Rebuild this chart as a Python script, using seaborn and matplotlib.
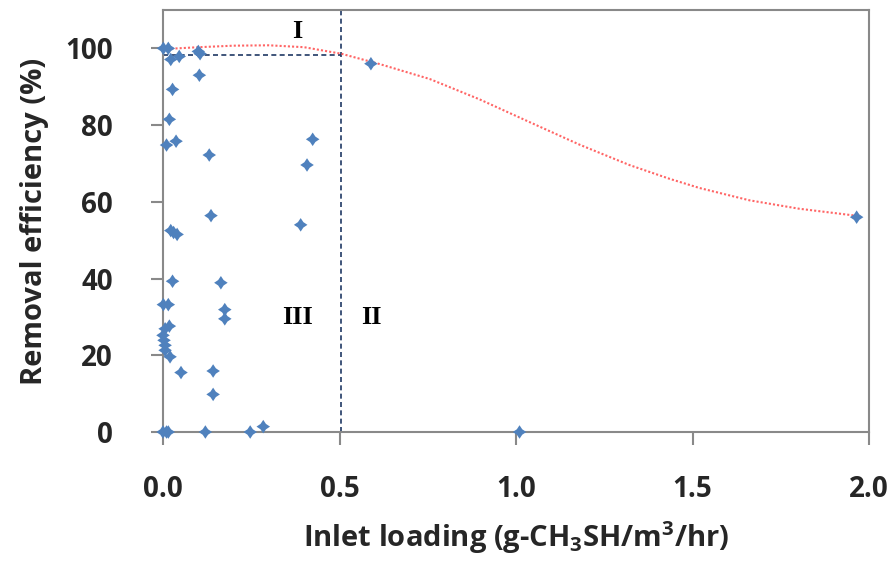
import numpy as np
import pandas as pd
import seaborn as sns
import matplotlib.pyplot as plt

# scatter data
inlet_loading = [0.001, 0.015, 0.100, 0.105, 0.022, 0.046, 0.103, 0.027, 0.018, 0.010,
                 0.037, 0.424, 0.408, 0.131, 0.136, 0.390, 0.022, 0.030, 0.040, 0.027,
                 0.164, 0.001, 0.015, 0.175, 0.175, 0.018, 0.006, 0.000, 0.003, 0.006,
                 0.006, 0.020, 0.051, 0.142, 0.142, 0.000, 0.010, 0.015, 0.120, 0.247,
                 0.284, 0.589, 1.010, 1.965]
removal_eff = [100.0, 100.0, 99.2, 98.6, 97.1, 97.9, 93.0, 89.3, 81.5, 74.8,
               75.8, 76.3, 69.6, 72.2, 56.4, 54.0, 52.5, 52.0, 51.5, 39.3,
               38.9, 33.2, 33.2, 31.9, 29.5, 27.6, 26.9, 25.2, 23.9, 22.6,
               21.3, 19.6, 15.5, 15.9, 9.8, 0.0, 0.0, 0.0, 0.0, 0.0,
               1.4, 96.0, 0.0, 56.0]

# trend curve
trend_x = [0.0, 0.10, 0.20, 0.30, 0.40, 0.505, 0.614, 0.756, 0.897, 1.038,
           1.18, 1.321, 1.435, 1.52, 1.661, 1.802, 1.953, 1.975]
trend_y = [99.8, 100.3, 100.7, 100.8, 100.3, 98.6, 95.9, 92.0, 86.7, 80.8,
           74.9, 69.6, 66.0, 63.6, 60.4, 58.2, 56.5, 56.3]

# region boundaries
boundary_x = 0.505
boundary_y = 98.4
region_labels = ["I", "II", "III"]
region_pos = [(0.38, 104.4), (0.59, 29.9), (0.38, 29.9)]

df = pd.DataFrame({"load": inlet_loading, "eff": removal_eff})
trend = pd.DataFrame({"x": trend_x, "y": trend_y})

sns.set_style("white")
plt.rcParams['font.family'] = ['Open Sans', 'DejaVu Sans']
plt.rcParams['mathtext.default'] = 'regular'

fig = plt.figure(figsize=(8.9, 5.64), dpi=100)
ax = fig.add_axes([163/890, 1-432/564, (869-163)/890, (432-10)/564])

sns.lineplot(data=trend, x="x", y="y", ax=ax, color="#ff4a4a", alpha=0.85,
             linewidth=1.5, linestyle=(0, (1, 1)), sort=False, zorder=2)
ax.plot([0, boundary_x], [boundary_y, boundary_y], color="#1f3864",
        linewidth=1.2, linestyle=(0, (3, 2)), zorder=1)
ax.axvline(boundary_x, color="#1f3864", linewidth=1.2, linestyle=(0, (3, 2)), zorder=1)

# slightly pinched diamond like the office-style marker
diamond = [(0, 1), (0.4, 0.4), (1, 0), (0.4, -0.4), (0, -1), (-0.4, -0.4), (-1, 0), (-0.4, 0.4)]
sns.scatterplot(data=df, x="load", y="eff", ax=ax, marker=diamond, s=95,
                color="#4f81bd", edgecolor="none", clip_on=False, zorder=3)

for lab, (px, py) in zip(region_labels, region_pos):
    ax.text(px, py, lab, ha="center", va="center", fontsize=19, fontweight="bold",
            family="Liberation Serif", color="black")

ax.set_xlim(0, 2.0)
ax.set_ylim(0, 110)
ax.set_xticks([0.0, 0.5, 1.0, 1.5, 2.0])
ax.set_xticklabels(["0.0", "0.5", "1.0", "1.5", "2.0"])
ax.set_yticks([0, 20, 40, 60, 80, 100])

for sp in ax.spines.values():
    sp.set_color("#898989")
    sp.set_linewidth(1.5)
ax.tick_params(axis="both", direction="out", length=9, width=1.5, color="#898989",
               labelsize=20, left=True, bottom=True)
ax.tick_params(axis="x", pad=22)
ax.tick_params(axis="y", pad=27)
for t in ax.get_xticklabels() + ax.get_yticklabels():
    t.set_fontweight("bold")

ax.set_xlabel("Inlet loading (g-CH$_3$SH/m$^3$/hr)", fontsize=21, fontweight="bold", labelpad=11)
ax.set_ylabel("Removal efficiency (%)", fontsize=21, fontweight="bold", labelpad=12)

fig.savefig("out.png", dpi=100)
